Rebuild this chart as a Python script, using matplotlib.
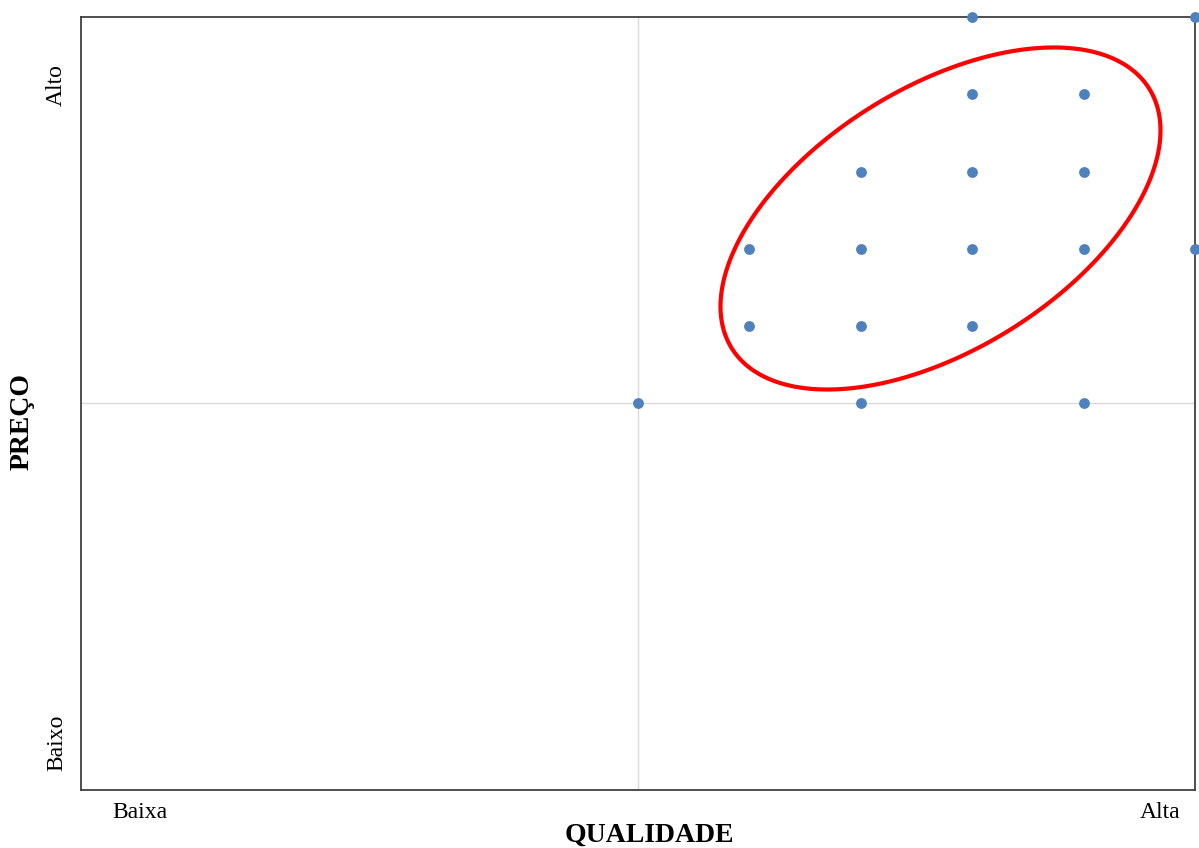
import numpy as np
import matplotlib
matplotlib.use("Agg")
from matplotlib import pyplot as plt
from matplotlib.patches import Polygon

plt.rcParams['font.family'] = ['Liberation Serif', 'DejaVu Serif']

# respostas: qualidade x preço (escala 0-10)
qualidade = [8, 10, 8, 9, 7, 8, 9, 6, 7, 8, 9, 10, 6, 7, 8, 5, 7, 9]
preco = [10, 10, 9, 9, 8, 8, 8, 7, 7, 7, 7, 7, 6, 6, 6, 5, 5, 5]

x_labels = ['Baixa', 'Alta']
y_labels = ['Baixo', 'Alto']

# destaque (elipse) em unidades de dados
ell_center = (7.715, 7.393)
ell_cov = np.array([[3.900, 2.248], [2.248, 4.894]])

fig = plt.figure(figsize=(11.99, 8.48), dpi=100)
ax = fig.add_axes([0.0676, 0.0684, 0.9291, 0.9116])

ax.set_xlim(0, 10)
ax.set_ylim(0, 10)

ax.axvline(5, color='#d9d9d9', lw=1, zorder=0)
ax.axhline(5, color='#d9d9d9', lw=1, zorder=0)

ax.plot(qualidade, preco, 'o', color='#4f81bd', markersize=7.8,
        markeredgewidth=0, clip_on=False, zorder=5)

t = np.linspace(0, 2 * np.pi, 400, endpoint=False)
L = np.linalg.cholesky(ell_cov)
pts = L @ np.vstack([np.cos(t), np.sin(t)])
ell = Polygon(np.column_stack([pts[0] + ell_center[0], pts[1] + ell_center[1]]),
              closed=True, fill=False, edgecolor='#ff0000', lw=3.0,
              joinstyle='round', zorder=4)
ax.add_patch(ell)

ax.set_xticks([])
ax.set_yticks([])
for s in ax.spines.values():
    s.set_color('#404040')
    s.set_linewidth(1.3)

ax.text(0.53, -0.29, x_labels[0], fontsize=17, ha='center', va='center')
ax.text(9.69, -0.29, x_labels[1], fontsize=17, ha='center', va='center')
ax.text(-0.22, 0.61, y_labels[0], fontsize=17, ha='center', va='center', rotation=90)
ax.text(-0.22, 9.12, y_labels[1], fontsize=17, ha='center', va='center', rotation=90)

fig.text(649 / 1199, 1 - 835 / 848, 'QUALIDADE', fontsize=20, fontweight='bold',
         ha='center', va='center')
fig.text(22 / 1199, 1 - 421 / 848, 'PREÇO', fontsize=20, fontweight='bold',
         ha='center', va='center', rotation=90)

fig.savefig('out.png', dpi=100)
